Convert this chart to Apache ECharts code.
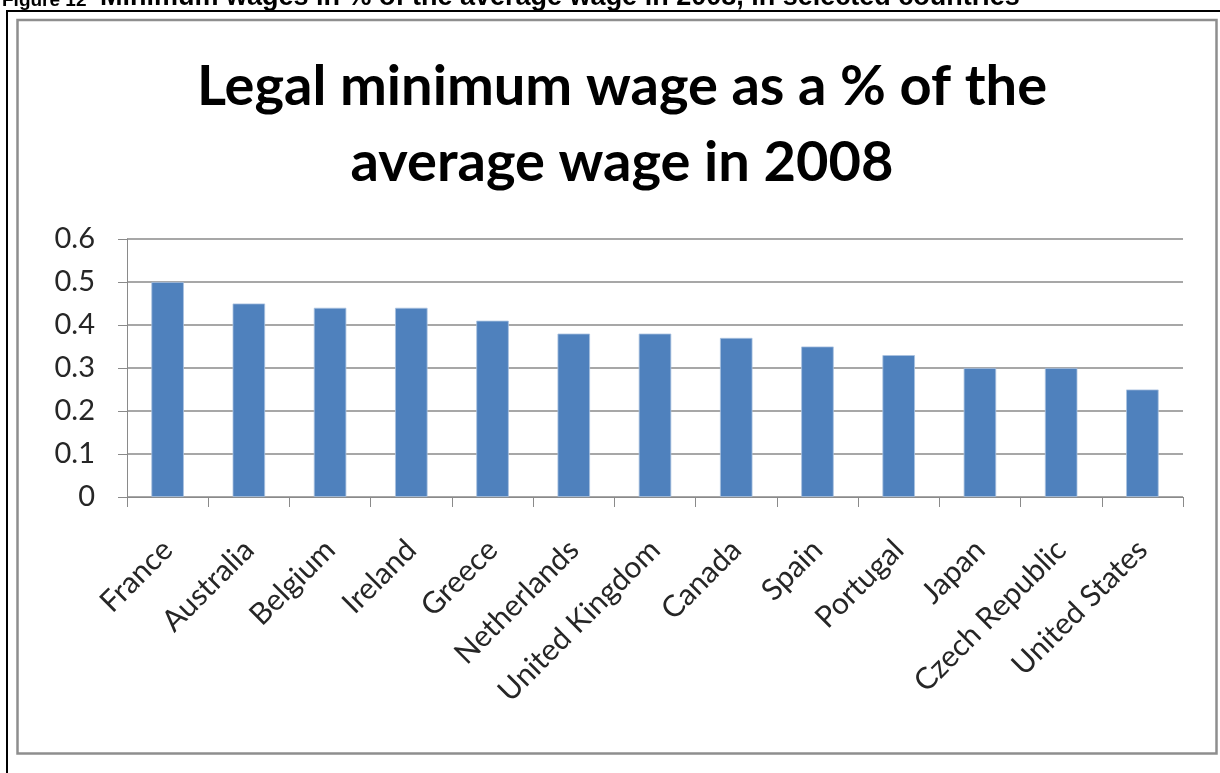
<!DOCTYPE html>
<html>
<head>
<meta charset="utf-8">
<script src="https://cdn.jsdelivr.net/npm/echarts@6/dist/echarts.min.js"></script>
<style>
  html, body { margin: 0; padding: 0; background: #fff; }
  #chart { width: 1220px; height: 773px; }
</style>
</head>
<body>
<div id="chart"></div>
<script>
const countries = ['France', 'Australia', 'Belgium', 'Ireland', 'Greece', 'Netherlands',
  'United Kingdom', 'Canada', 'Spain', 'Portugal', 'Japan', 'Czech Republic', 'United States']
const minWageShare = [0.5, 0.45, 0.44, 0.44, 0.41, 0.38, 0.38, 0.37, 0.35, 0.33, 0.3, 0.3, 0.25]
const yTicks = [0, 0.1, 0.2, 0.3, 0.4, 0.5, 0.6]

const chart = echarts.init(document.getElementById('chart'))

chart.setOption({
  animation: false,
  title: {
    text: 'Legal minimum wage as a % of the\naverage wage in 2008',
    left: 617,
    top: 44,
    textAlign: 'center',
    textStyle: {
      fontFamily: 'Lato',
      fontWeight: 'bold',
      fontSize: 56,
      lineHeight: 76,
      color: '#000'
    }
  },
  graphic: [
    // caption cut off at the top of the page
    {
      type: 'text',
      style: {
        text: 'Figure 12',
        x: 2, y: 10,
        verticalAlign: 'bottom',
        font: 'bold 19px "Liberation Sans"',
        fill: '#000'
      }
    },
    {
      type: 'text',
      style: {
        text: 'Minimum wages in % of the average wage in 2008, in selected countries',
        x: 100, y: 11,
        verticalAlign: 'bottom',
        font: 'bold 27px "Liberation Sans"',
        fill: '#000'
      }
    },
    // black frame (top and left)
    { type: 'rect', shape: { x: 6, y: 10, width: 1214, height: 2 }, style: { fill: '#000' } },
    { type: 'rect', shape: { x: 6, y: 10, width: 2, height: 763 }, style: { fill: '#000' } },
    // grey chart border
    {
      type: 'rect',
      shape: { x: 17.5, y: 20, width: 1199, height: 733.5 },
      style: { fill: 'none', stroke: '#8e8e8e', lineWidth: 2.5 }
    }
  ],
  grid: {
    left: 127,
    right: 37,
    top: 239,
    bottom: 276
  },
  xAxis: {
    type: 'category',
    data: countries,
    axisLine: { lineStyle: { color: '#8a8a8a', width: 1 } },
    axisTick: { show: true, length: 10, alignWithLabel: false, lineStyle: { color: '#8a8a8a' } },
    axisLabel: {
      rotate: 45,
      interval: 0,
      margin: 48,
      fontFamily: 'Lato',
      fontSize: 30,
      color: '#262626'
    }
  },
  yAxis: {
    type: 'value',
    min: 0,
    max: 0.6,
    interval: 0.1,
    axisLine: { show: true, lineStyle: { color: '#8a8a8a', width: 1 } },
    axisTick: { show: true, length: 9, lineStyle: { color: '#8a8a8a' } },
    splitLine: { lineStyle: { color: '#8a8a8a', width: 1.5 } },
    axisLabel: {
      margin: 32,
      fontFamily: 'Lato',
      fontSize: 29,
      color: '#262626',
      formatter: v => {
        const t = yTicks.find(k => Math.abs(k - v) < 1e-9)
        return t === undefined ? '' : String(t)
      }
    }
  },
  series: [
    {
      type: 'bar',
      data: minWageShare,
      barWidth: '40%',
      itemStyle: {
        color: '#4f81bd',
        borderColor: '#a9c1e0',
        borderWidth: 0.8
      }
    }
  ]
})
</script>
</body>
</html>
